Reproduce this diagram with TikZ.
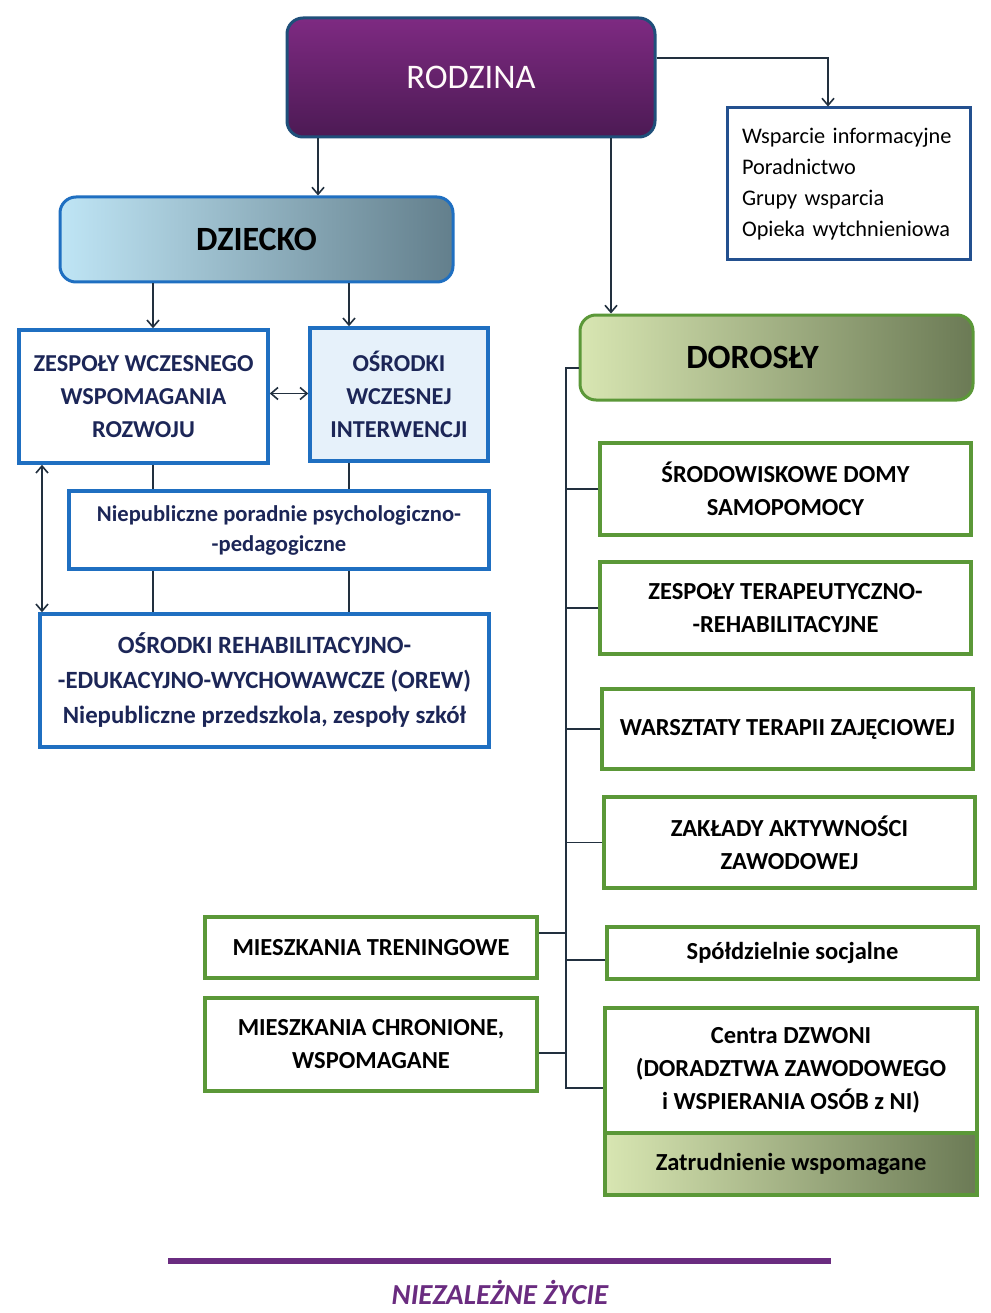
\documentclass[tikz,border=0pt]{standalone}
\usepackage{fontspec}
\setmainfont{Carlito}
\usetikzlibrary{arrows.meta}

\definecolor{navy}{HTML}{1C2657}
\definecolor{boxblue}{HTML}{1F6FC1}
\definecolor{infoblue}{HTML}{23508F}
\definecolor{boxgreen}{HTML}{5B9838}
\definecolor{linkcol}{HTML}{22303F}
\definecolor{purpletop}{HTML}{7E2A82}
\definecolor{purplebot}{HTML}{4C1A54}
\definecolor{purpleedge}{HTML}{1F4F7A}
\definecolor{paleblue}{HTML}{E6F1FA}
\definecolor{skyleft}{HTML}{BFE5F5}
\definecolor{skyright}{HTML}{637F8C}
\definecolor{oliveleft}{HTML}{D8E6B2}
\definecolor{oliveright}{HTML}{6B7A55}
\definecolor{footpurple}{HTML}{6A2C80}

\tikzset{
  box/.style={draw, line width=3.5pt, fill=white, inner sep=0pt, align=center},
  bluebox/.style={box, draw=boxblue, text=navy, font=\bfseries\fontsize{24.3}{33}\selectfont},
  greenbox/.style={box, draw=boxgreen, text=black, font=\bfseries\fontsize{24.5}{33}\selectfont},
  headbox/.style={rounded corners=16pt, line width=3pt, inner sep=0pt,
    font=\bfseries\fontsize{34}{40}\selectfont},
  headtext/.style={inner sep=0pt, font=\bfseries\fontsize{34}{40}\selectfont},
  link/.style={draw=linkcol, line width=1.6pt},
  arr/.style={link, -{Straight Barb[length=7pt,width=12pt]}},
  darr/.style={link, {Straight Barb[length=7pt,width=12pt]}-{Straight Barb[length=7pt,width=12pt]}},
}

\begin{document}
\begin{tikzpicture}[x=1pt,y=-1pt]
\useasboundingbox[fill=white] (0,0) rectangle (990,1313);

% --- family level ---
\node[headbox, draw=purpleedge, top color=purpletop, bottom color=purplebot,
      minimum width=368pt, minimum height=119pt, text=white!92!pink,
      font=\fontsize{34.5}{40}\selectfont] (rod) at (471,77.5) {RODZINA};

\node[box, draw=infoblue, line width=3pt, minimum width=243pt, minimum height=152pt,
      text width=213pt, align=left, font=\fontsize{22.3}{31}\selectfont] (wsp) at (848.5,184)
  {Wsparcie informacyjne\\Poradnictwo\\Grupy wsparcia\\Opieka wytchnieniowa};

% --- child branch ---
\node[headbox, draw=boxblue, left color=skyleft, right color=skyright,
      minimum width=393pt, minimum height=85pt] (dz) at (256.5,239.5) {DZIECKO};

\node[bluebox, minimum width=249pt, minimum height=133pt] (zwr) at (143.5,396.5)
  {ZESPOŁY WCZESNEGO\\WSPOMAGANIA\\ROZWOJU};
\node[bluebox, fill=paleblue, minimum width=178pt, minimum height=133pt] (owi) at (399,394.5)
  {OŚRODKI\\WCZESNEJ\\INTERWENCJI};
\node[bluebox, minimum width=420pt, minimum height=78pt,
      font=\bfseries\fontsize{22.6}{30}\selectfont] (npp) at (279,530)
  {Niepubliczne poradnie psychologiczno-\\-pedagogiczne};
\node[bluebox, minimum width=449pt, minimum height=133pt,
      font=\bfseries\fontsize{24.8}{35}\selectfont] (orew) at (264.5,680.5)
  {OŚRODKI REHABILITACYJNO-\\-EDUKACYJNO-WYCHOWAWCZE (OREW)\\Niepubliczne przedszkola, zespoły szkół};

% --- adult branch ---
\node[headbox, draw=boxgreen, left color=oliveleft, right color=oliveright,
      minimum width=393pt, minimum height=85pt] (dor) at (776.5,357.5) {};
\node[headtext] at ([xshift=-24pt]dor.center) {DOROSŁY};

\node[greenbox, minimum width=371pt, minimum height=92pt] (sds) at (785.5,489)
  {ŚRODOWISKOWE DOMY\\SAMOPOMOCY};
\node[greenbox, minimum width=371pt, minimum height=92pt] (ztr) at (785.5,608)
  {ZESPOŁY TERAPEUTYCZNO-\\-REHABILITACYJNE};
\node[greenbox, minimum width=371pt, minimum height=80pt] (wtz) at (787.5,729)
  {WARSZTATY TERAPII ZAJĘCIOWEJ};
\node[greenbox, minimum width=371pt, minimum height=91pt] (zaz) at (789.5,842.5)
  {ZAKŁADY AKTYWNOŚCI\\ZAWODOWEJ};
\node[greenbox, minimum width=371pt, minimum height=52pt] (spo) at (792.5,953)
  {Spółdzielnie socjalne};
\node[greenbox, minimum width=372pt, minimum height=125pt] (cdz) at (791,1070.5)
  {Centra DZWONI\\(DORADZTWA ZAWODOWEGO\\i WSPIERANIA OSÓB z NI)};
\node[greenbox, left color=oliveleft, right color=oliveright,
      minimum width=372pt, minimum height=62pt] (zwp) at (791,1164)
  {Zatrudnienie wspomagane};

\node[greenbox, minimum width=332pt, minimum height=61pt] (mtr) at (371,947.5)
  {MIESZKANIA TRENINGOWE};
\node[greenbox, minimum width=332pt, minimum height=93pt] (mch) at (371,1044.5)
  {MIESZKANIA CHRONIONE,\\WSPOMAGANE};

% --- column positions of the connectors ---
\coordinate (cR1) at (318,0);
\coordinate (cR2) at (611,0);
\coordinate (cW) at (828,58);
\coordinate (cA) at (153,0);
\coordinate (cB) at (349,0);
\coordinate (cL) at (42,0);
\coordinate (tTop) at (566,368);
\coordinate (tBot) at (566,1088);

% family connectors
\draw[arr] (rod.south -| cR1) -- (dz.north -| cR1);
\draw[arr] (rod.south -| cR2) -- (dor.north -| cR2);
\draw[arr] (rod.east |- cW) -- (cW) -- (wsp.north -| cW);

% child connectors
\draw[arr] (dz.south -| cA) -- (zwr.north -| cA);
\draw[arr] (dz.south -| cB) -- (owi.north -| cB);
\draw[darr] ([yshift=3pt]zwr.east) -- ([yshift=3pt]zwr.east -| owi.west);
\draw[link] (zwr.south -| cA) -- (npp.north -| cA);
\draw[link] (owi.south -| cB) -- (npp.north -| cB);
\draw[link] (npp.south -| cA) -- (orew.north -| cA);
\draw[link] (npp.south -| cB) -- (orew.north -| cB);
\draw[darr] (zwr.south -| cL) -- (orew.north -| cL);

% adult trunk and branches
\draw[link] (dor.west |- tTop) -- (tTop) -- (tBot) -- (cdz.west |- tBot);
\draw[link] (sds.west) -- (sds.west -| tTop);
\draw[link] (ztr.west) -- (ztr.west -| tTop);
\draw[link] (wtz.west) -- (wtz.west -| tTop);
\draw[link] (zaz.west) -- (zaz.west -| tTop);
\draw[link] ([yshift=-7pt]spo.west) -- ([yshift=-7pt]spo.west -| tTop);
\draw[link] ([yshift=14.5pt]mtr.east) -- ([yshift=14.5pt]mtr.east -| tTop);
\draw[link] ([yshift=-8.5pt]mch.east) -- ([yshift=-8.5pt]mch.east -| tTop);

% footer
\coordinate (fl) at (168,1261);
\coordinate (fr) at (831,1261);
\draw[footpurple, line width=6pt] (fl) -- (fr);
\node[text=footpurple, inner sep=0pt, font=\bfseries\itshape\fontsize{29}{32}\selectfont]
  (nz) at (500,1292) {NIEZALEŻNE ŻYCIE};
\end{tikzpicture}
\end{document}
